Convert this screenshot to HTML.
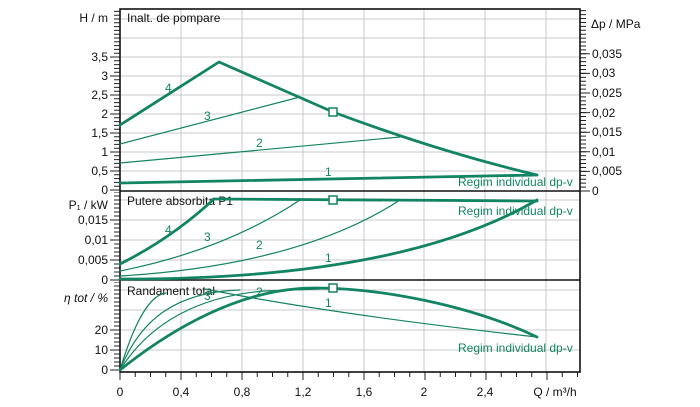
<!DOCTYPE html>
<html><head><meta charset="utf-8"><style>
html,body{margin:0;padding:0;background:#fff;}
svg{display:block;font-family:"Liberation Sans",Arial,sans-serif;}
</style></head><body>
<svg width="700" height="407" viewBox="0 0 700 407" xmlns="http://www.w3.org/2000/svg">
<rect width="700" height="407" fill="#fff"/>
<!-- grid -->
<g stroke="#c8c8c8" stroke-width="1">
<line x1="181" y1="9" x2="181" y2="372"/><line x1="242" y1="9" x2="242" y2="372"/>
<line x1="303" y1="9" x2="303" y2="372"/><line x1="364" y1="9" x2="364" y2="372"/>
<line x1="424" y1="9" x2="424" y2="372"/><line x1="485" y1="9" x2="485" y2="372"/>
<line x1="546" y1="9" x2="546" y2="372"/>
<line x1="120" y1="171" x2="580" y2="171"/><line x1="120" y1="152" x2="580" y2="152"/>
<line x1="120" y1="133" x2="580" y2="133"/><line x1="120" y1="114" x2="580" y2="114"/>
<line x1="120" y1="95" x2="580" y2="95"/><line x1="120" y1="76" x2="580" y2="76"/>
<line x1="120" y1="57" x2="580" y2="57"/><line x1="120" y1="38" x2="580" y2="38"/>
<line x1="120" y1="19" x2="580" y2="19"/>
<line x1="120" y1="260" x2="580" y2="260"/><line x1="120" y1="240" x2="580" y2="240"/>
<line x1="120" y1="220" x2="580" y2="220"/><line x1="120" y1="200" x2="580" y2="200"/>
<line x1="120" y1="350" x2="580" y2="350"/><line x1="120" y1="330" x2="580" y2="330"/>
<line x1="120" y1="310" x2="580" y2="310"/><line x1="120" y1="290" x2="580" y2="290"/>
</g>
<!-- ticks -->
<g stroke="#222" fill="none">
<line x1="117" y1="190.5" x2="117" y2="9" stroke-width="6" stroke-dasharray="1 2.8"/>
<line x1="115" y1="190.5" x2="115" y2="40" stroke-width="10" stroke-dasharray="1 18"/>
<line x1="117" y1="280.5" x2="117" y2="192" stroke-width="6" stroke-dasharray="1 3"/>
<line x1="115" y1="280.5" x2="115" y2="210" stroke-width="10" stroke-dasharray="1 19"/>
<line x1="117" y1="370.5" x2="117" y2="282" stroke-width="6" stroke-dasharray="1 3"/>
<line x1="115" y1="370.5" x2="115" y2="320" stroke-width="10" stroke-dasharray="1 19"/>
<line x1="583" y1="191.5" x2="583" y2="9" stroke-width="6" stroke-dasharray="1 2.92"/>
<line x1="585" y1="191.5" x2="585" y2="45" stroke-width="10" stroke-dasharray="1 18.6"/>
<line x1="119.5" y1="374.5" x2="580" y2="374.5" stroke-width="5" stroke-dasharray="1 14.25"/>
<line x1="119.5" y1="376" x2="580" y2="376" stroke-width="8" stroke-dasharray="1 60"/>
</g>
<!-- frame -->
<g stroke="#111" stroke-width="1.6" fill="none">
<rect x="120" y="9" width="460" height="363"/>
<line x1="120" y1="191" x2="580" y2="191"/>
<line x1="120" y1="280" x2="580" y2="280"/>
</g>
<!-- panel titles -->
<g font-size="12" fill="#111">
<text x="127" y="22">Inalt. de pompare</text>
<text x="127" y="205">Putere absorbita P1</text>
<text x="127" y="295">Randament total</text>
</g>
<!-- curves -->
<g fill="none" stroke="#138463" stroke-linejoin="round" stroke-linecap="round">
<path d="M120,183 Q330,179 537,175" stroke-width="2.8"/>
<path d="M120,163 Q260,150 400,137" stroke-width="1.2"/>
<path d="M120,144 L300,97" stroke-width="1.2"/>
<path d="M120,125 L219,62 L333,112 Q440,152 537,175" stroke-width="2.8"/>
<path d="M120,264 Q172,238 214,199" stroke-width="2.8"/>
<path d="M214,199 L537,201" stroke-width="2.8"/>
<path d="M120,271 Q225,250 300,200" stroke-width="1.2"/>
<path d="M120,276 Q300,265 400,200" stroke-width="1.2"/>
<path d="M120,279 Q400,280 537,200" stroke-width="2.8"/>
<path d="M120,370 C170,330 240,288 315,288 C380,288 470,305 537,337" stroke-width="2.8"/>
<path d="M120,370 C135,320 150,295 166,293" stroke-width="1.2"/>
<path d="M120,370 C140,320 175,292 240,290" stroke-width="1.2"/>
<path d="M120,370 C150,322 200,296 265,291 L320,289" stroke-width="1.2"/>
<path d="M205,289 Q330,314 537,337" stroke-width="1.2"/>
</g>
<g fill="#fff" stroke="#138463" stroke-width="1.5">
<rect x="329" y="108" width="8" height="8"/>
<rect x="329" y="196" width="8" height="8"/>
<rect x="329" y="284" width="8" height="8"/>
</g>
<g font-size="12" fill="#138463">
<text x="165" y="92">4</text><text x="204" y="120">3</text><text x="256" y="147">2</text><text x="325" y="176">1</text>
<text x="165" y="234">4</text><text x="204" y="241">3</text><text x="256" y="249">2</text><text x="325" y="262">1</text>
<text x="204" y="300">3</text><text x="256" y="296">2</text><text x="325" y="307">1</text>
<text x="458" y="186">Regim individual dp-v</text>
<text x="458" y="215">Regim individual dp-v</text>
<text x="458" y="352">Regim individual dp-v</text>
</g>
<!-- axis labels -->
<g font-size="12" fill="#111" text-anchor="end">
<text x="108" y="194">0</text><text x="108" y="175">0,5</text><text x="108" y="156">1</text>
<text x="108" y="137">1,5</text><text x="108" y="118">2</text><text x="108" y="99">2,5</text>
<text x="108" y="80">3</text><text x="108" y="61">3,5</text>
<text x="108" y="284">0</text><text x="108" y="264">0,005</text><text x="108" y="244">0,01</text><text x="108" y="224">0,015</text>
<text x="108" y="374">0</text><text x="108" y="354">10</text><text x="108" y="334">20</text>
<text x="108" y="22">H / m</text>
<text x="108" y="209">P₁ / kW</text>
<text x="108" y="302" font-style="italic">η tot  / %</text>
</g>
<g font-size="12" fill="#111">
<text x="592" y="195">0</text><text x="592" y="175">0,005</text><text x="592" y="156">0,01</text>
<text x="592" y="136">0,015</text><text x="592" y="117">0,02</text><text x="592" y="97">0,025</text>
<text x="592" y="77">0,03</text><text x="592" y="58">0,035</text>
<text x="591" y="28">Δp / MPa</text>
</g>
<g font-size="12" fill="#111" text-anchor="middle">
<text x="120" y="396">0</text><text x="181" y="396">0,4</text><text x="242" y="396">0,8</text>
<text x="303" y="396">1,2</text><text x="364" y="396">1,6</text><text x="424" y="396">2</text>
<text x="485" y="396">2,4</text><text x="555" y="396">Q / m³/h</text>
</g>
</svg>
</body></html>
